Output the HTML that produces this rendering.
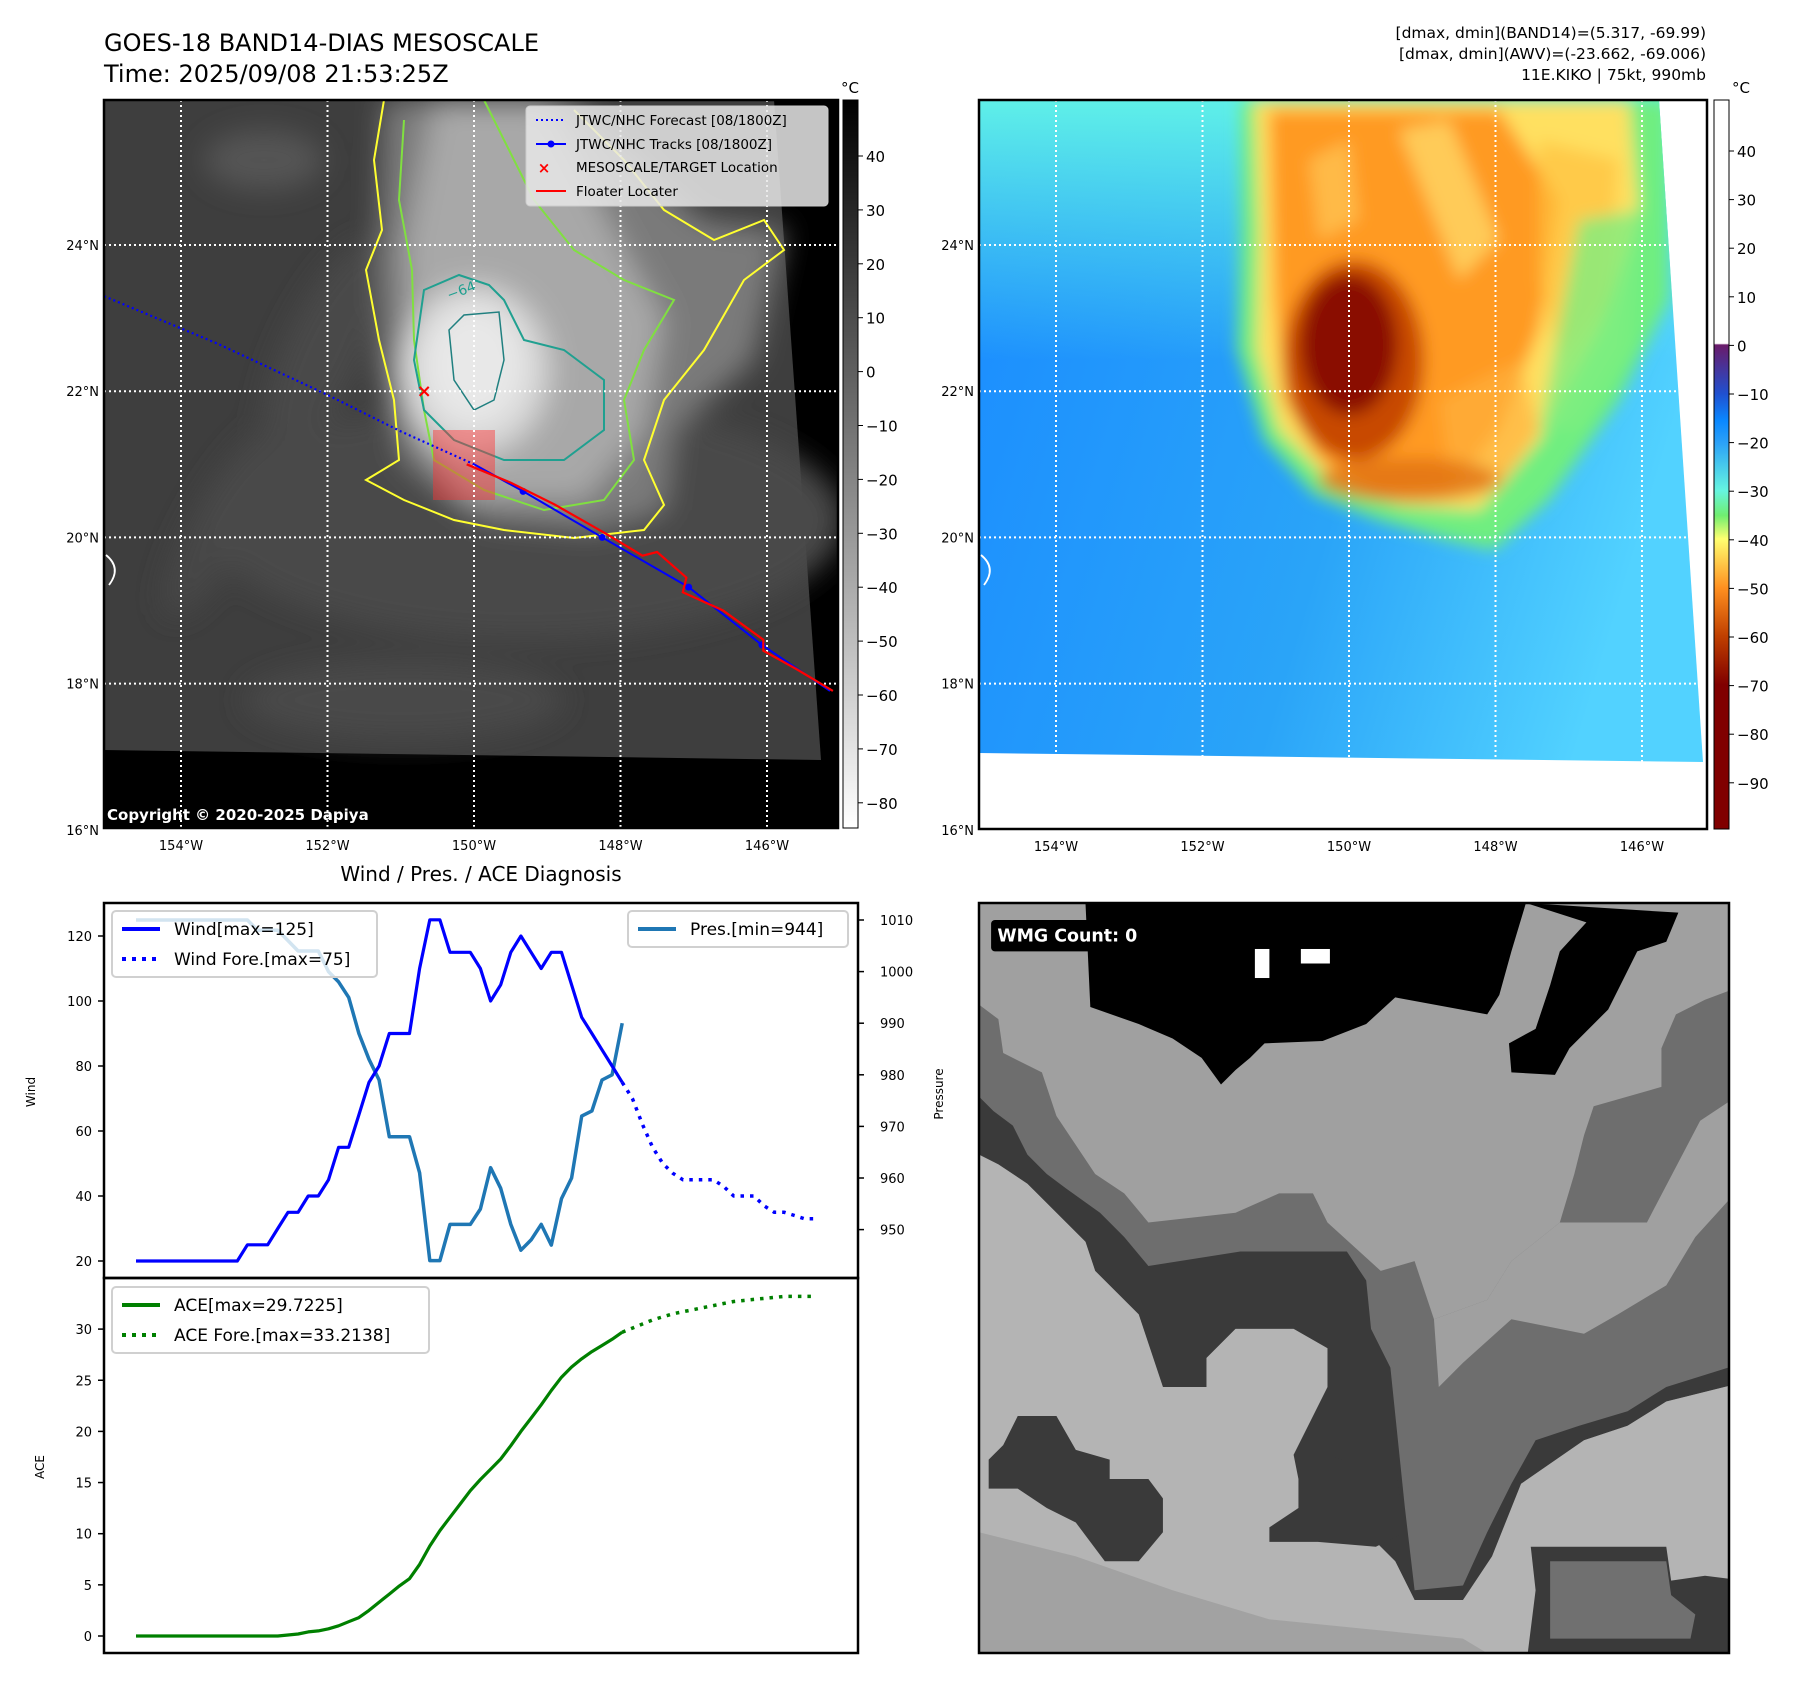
<!DOCTYPE html>
<html><head><meta charset="utf-8">
<style>
html,body{margin:0;padding:0;background:#fff;}
body{width:1797px;height:1690px;overflow:hidden;font-family:"DejaVu Sans","Liberation Sans",sans-serif;}
svg text{font-family:"DejaVu Sans","Liberation Sans",sans-serif;}
</style></head>
<body>
<svg id="root" width="1797" height="1690" viewBox="0 0 1797 1690" xmlns="http://www.w3.org/2000/svg">
<defs>
  <filter id="blur8"><feGaussianBlur stdDeviation="8"/></filter>
  <filter id="blur4"><feGaussianBlur stdDeviation="4"/></filter>
  <filter id="blur14"><feGaussianBlur stdDeviation="14"/></filter>
  <linearGradient id="grayBar" x1="0" y1="0" x2="0" y2="1">
    <stop offset="0" stop-color="#000"/><stop offset="1" stop-color="#fff"/>
  </linearGradient>
  <linearGradient id="awvBar" x1="0" y1="0" x2="0" y2="1">
    <stop offset="0" stop-color="#fff"/><stop offset="0.334" stop-color="#fff"/>
    <stop offset="0.336" stop-color="#6a1b6a"/><stop offset="0.403" stop-color="#2050d0"/>
    <stop offset="0.44" stop-color="#0a88ff"/><stop offset="0.469" stop-color="#2aa0f8"/>
    <stop offset="0.536" stop-color="#66f5e0"/><stop offset="0.57" stop-color="#70ee70"/>
    <stop offset="0.602" stop-color="#ffff70"/><stop offset="0.669" stop-color="#ff9020"/>
    <stop offset="0.735" stop-color="#c04000"/><stop offset="0.802" stop-color="#800000"/>
    <stop offset="1" stop-color="#800000"/>
  </linearGradient>
  <linearGradient id="seaGrad" x1="0" y1="0" x2="1" y2="0.3">
    <stop offset="0" stop-color="#1a8cff"/><stop offset="0.6" stop-color="#2aa4f8"/><stop offset="1" stop-color="#52d2ff"/>
  </linearGradient>
  <linearGradient id="seaTop" x1="0" y1="0" x2="0" y2="1">
    <stop offset="0" stop-color="#5ff0e8"/><stop offset="1" stop-color="#5ff0e8" stop-opacity="0"/>
  </linearGradient>
  <clipPath id="clipL"><rect x="0" y="0" width="734" height="728"/></clipPath>
  <clipPath id="clipR"><rect x="0" y="0" width="728" height="729"/></clipPath>
  <clipPath id="clipB"><rect x="0" y="0" width="750" height="750"/></clipPath>
</defs>

<!-- Titles -->
<text x="104" y="51" font-size="24" fill="#000">GOES-18 BAND14-DIAS MESOSCALE</text>
<text x="104" y="82" font-size="24" fill="#000">Time: 2025/09/08 21:53:25Z</text>
<g font-size="15.5" text-anchor="end" fill="#000">
  <text x="1706" y="38">[dmax, dmin](BAND14)=(5.317, -69.99)</text>
  <text x="1706" y="59">[dmax, dmin](AWV)=(-23.662, -69.006)</text>
  <text x="1706" y="80">11E.KIKO | 75kt, 990mb</text>
</g>

<!-- LEFT MAP -->
<g id="mapL" transform="translate(104,100)">
  <g clip-path="url(#clipL)">
    <rect width="734" height="728" fill="#000"/>
    <polygon points="0,0 670,0 717,660 0,650" fill="#3e3e3e"/>
    <g filter="url(#blur14)">
      <ellipse cx="160" cy="60" rx="60" ry="30" fill="#555"/>
      <ellipse cx="220" cy="250" rx="40" ry="120" fill="#4a4a4a" transform="rotate(25 220 250)"/>
      <ellipse cx="120" cy="420" rx="30" ry="110" fill="#474747" transform="rotate(30 120 420)"/>
      <ellipse cx="420" cy="420" rx="320" ry="120" fill="#4a4a4a"/>
      <ellipse cx="300" cy="600" rx="160" ry="40" fill="#4a4a4a"/>
      <path d="M275,130 L280,0 L470,0 L600,120 L680,130 L650,260 L570,330 L560,410 L490,430 L380,420 L300,360 L280,280Z" fill="#7a7a7a"/>
      <path d="M300,150 L330,0 L440,0 L520,150 L560,220 L540,330 L480,400 L360,400 L310,330Z" fill="#a8a8a8"/>
      <ellipse cx="370" cy="270" rx="75" ry="85" fill="#d8d8d8"/>
      <ellipse cx="370" cy="265" rx="50" ry="60" fill="#e8e8e8"/>
    </g>
    <g fill="none" stroke-width="2">
      <path d="M280,0 L270,60 L278,130 L262,170 L275,240 L290,300 L295,360 L262,380 L300,400 L350,420 L400,430 L470,438 L540,430 L560,405 L540,360 L560,300 L600,250 L640,180 L680,150 L660,120 L610,140 L560,110 L520,60 L470,10" stroke="#ffff30"/>
      <path d="M300,20 L295,100 L308,170 L310,240 L320,310 L330,360 L380,390 L440,410 L500,400 L530,360 L520,300 L540,250 L570,200 L520,180 L470,150 L430,100 L400,40 L380,0" stroke="#80e040"/>
      <path d="M320,190 L355,175 L385,185 L400,200 L420,240 L460,250 L500,280 L500,330 L460,360 L400,360 L350,340 L320,310 L310,260Z" stroke="#20a090"/>
      <path d="M345,230 L360,215 L395,212 L400,260 L390,300 L370,310 L350,280Z" stroke="#208080" stroke-width="1.5"/>
    </g>
    <text x="345" y="200" font-size="14" fill="#20a090" transform="rotate(-20 345 200)">−64</text>
    <rect x="329" y="330" width="62" height="70" fill="#ff3030" fill-opacity="0.45"/>
    <path d="M2,455 Q18,468 5,485" fill="none" stroke="#fff" stroke-width="1.8"/>
    <g id="gridL"></g>
    <g id="tracksL"></g>
    <text x="3" y="720" font-size="15" font-weight="bold" fill="#fff">Copyright © 2020-2025 Dapiya</text>
    <g>
      <rect x="422" y="6" width="302" height="100" rx="4" fill="#e8e8e8" fill-opacity="0.85" stroke="#ccc"/>
      <line x1="432" y1="20" x2="462" y2="20" stroke="#0000ff" stroke-width="2" stroke-dasharray="2,3"/>
      <text x="472" y="25" font-size="13.5" fill="#000">JTWC/NHC Forecast [08/1800Z]</text>
      <line x1="432" y1="44" x2="462" y2="44" stroke="#0000ff" stroke-width="2"/><circle cx="447" cy="44" r="3.5" fill="#0000ff"/>
      <text x="472" y="49" font-size="13.5" fill="#000">JTWC/NHC Tracks [08/1800Z]</text>
      <text x="440" y="73" font-size="15" font-weight="bold" fill="#ff0000" text-anchor="middle">×</text>
      <text x="472" y="72" font-size="13.5" fill="#000">MESOSCALE/TARGET Location</text>
      <line x1="432" y1="91" x2="462" y2="91" stroke="#ff0000" stroke-width="2"/>
      <text x="472" y="96" font-size="13.5" fill="#000">Floater Locater</text>
    </g>
  </g>
  <rect width="734" height="728" fill="none" stroke="#000" stroke-width="2.5"/>
  <g id="axisL" font-size="13" fill="#000"></g>
</g>
<g>
  <rect x="843" y="100" width="15" height="728" fill="url(#grayBar)" stroke="#000" stroke-width="1"/>
  <text x="850" y="93" font-size="15" text-anchor="middle">°C</text>
  <g id="cbarL" font-size="15"></g>
</g>

<!-- RIGHT MAP -->
<g id="mapR" transform="translate(979,100)">
  <g clip-path="url(#clipR)">
    <rect width="728" height="729" fill="#fff"/>
    <clipPath id="dataR"><polygon points="0,0 680,0 724,662 0,653"/></clipPath>
    <g clip-path="url(#dataR)">
      <rect width="728" height="729" fill="url(#seaGrad)"/>
      <rect width="728" height="260" fill="url(#seaTop)"/>
      <g filter="url(#blur8)">
        <path d="M262,0 L690,0 L690,200 L640,300 L570,400 L515,450 L470,440 L400,420 L335,395 L285,340 L258,250 L262,130Z" fill="#70ee80"/>
        <path d="M275,0 L650,0 L660,120 L620,230 L560,340 L500,410 L420,405 L350,380 L300,330 L278,250 L280,130Z" fill="#ffe060"/>
        <path d="M290,10 L520,10 L580,100 L560,230 L520,330 L470,390 L400,395 L340,360 L305,300 L295,200Z" fill="#ff9a20"/>
        <path d="M560,40 L640,60 L630,200 L580,260 L560,180Z" fill="#ffc040" fill-opacity="0.7"/>
        <path d="M600,120 L660,110 L650,250 L600,330 L560,330 Z" fill="#80ee80" fill-opacity="0.8"/>
        <path d="M420,30 L470,20 L520,140 L480,180 Z" fill="#ffe070" fill-opacity="0.7"/>
        <path d="M330,60 L370,40 L380,120 L340,140 Z" fill="#ffd060" fill-opacity="0.6"/>
        <path d="M460,300 L540,260 L560,330 L520,390 L470,380 Z" fill="#ffb040" fill-opacity="0.7"/>
        <ellipse cx="375" cy="260" rx="70" ry="100" fill="#c84a00"/>
        <ellipse cx="370" cy="245" rx="48" ry="70" fill="#8a1000"/>
        <ellipse cx="430" cy="380" rx="90" ry="22" fill="#e07010" fill-opacity="0.8"/>
      </g>
    </g>
    <path d="M2,455 Q18,468 5,485" fill="none" stroke="#fff" stroke-width="1.8"/>
    <g id="gridR"></g>
  </g>
  <rect width="728" height="729" fill="none" stroke="#000" stroke-width="2.5"/>
  <g id="axisR" font-size="13" fill="#000"></g>
</g>
<g>
  <rect x="1714" y="100" width="15" height="729" fill="url(#awvBar)" stroke="#000" stroke-width="1"/>
  <text x="1741" y="93" font-size="15" text-anchor="middle">°C</text>
  <g id="cbarR" font-size="15"></g>
</g>

<!-- DIAGNOSIS CHART -->
<text x="481" y="881" font-size="20" text-anchor="middle">Wind / Pres. / ACE Diagnosis</text>
<g id="diag"></g>

<!-- BOTTOM RIGHT -->
<g transform="translate(979,903)">
  <g clip-path="url(#clipB)">
    <g transform="scale(0.484)">
      <rect width="1580" height="1580" fill="#a0a0a0"/>
      <polygon points="220,0 1130,0 1100,100 1075,190 1050,230 860,195 800,250 710,285 590,290 560,320 530,345 500,375 460,320 400,280 330,250 230,215" fill="#000"/>
      <polygon points="1130,0 1445,20 1420,80 1360,100 1330,160 1300,220 1220,300 1190,355 1100,350 1095,290 1150,260 1180,170 1200,100 1255,40" fill="#000"/>
      <polygon points="0,210 40,240 50,310 130,350 160,440 240,560 300,600 350,660 530,640 620,600 690,600 720,660 830,760 900,740 940,860 1050,820 1100,740 1200,660 1230,560 1250,480 1270,420 1410,380 1410,300 1440,230 1500,200 1580,170 1580,1580 0,1580" fill="#6e6e6e"/>
      <polygon points="940,860 1050,820 1100,740 1200,660 1380,660 1490,450 1580,390 1580,580 1480,690 1420,790 1320,850 1250,890 1100,860 1000,950 950,1000" fill="#a0a0a0"/>
      <polygon points="0,400 30,430 70,460 100,520 140,560 180,590 250,640 300,690 350,750 540,720 760,720 800,780 810,880 850,960 880,1250 900,1420 1000,1410 1050,1300 1100,1200 1150,1110 1240,1080 1340,1050 1420,1000 1580,950 1580,990 1420,1030 1340,1080 1250,1110 1120,1200 1060,1350 1000,1440 900,1440 860,1360 800,1300 700,1200 650,1140 720,1000 720,920 650,880 530,880 470,940 470,1000 380,1000 330,850 300,820 240,760 220,700 160,640 100,580 40,540 0,520" fill="#3a3a3a"/>
      <polygon points="0,520 40,540 100,580 160,640 220,700 240,760 300,820 330,850 380,1000 470,1000 470,940 530,880 650,880 720,920 720,1000 650,1140 700,1200 800,1300 860,1360 900,1440 1000,1440 1060,1350 1120,1200 1250,1110 1340,1080 1420,1030 1580,990 1580,1580 0,1580" fill="#b4b4b4"/>
      <polygon points="0,1300 200,1350 400,1420 600,1480 800,1500 1000,1520 1100,1580 0,1580" fill="#a2a2a2"/>
      <polygon points="20,1150 50,1120 80,1060 160,1060 200,1130 270,1150 270,1190 350,1190 380,1230 380,1300 330,1360 260,1360 200,1280 140,1250 80,1210 20,1210" fill="#3a3a3a"/>
      <polygon points="650,1140 720,1140 780,1160 860,1160 880,1300 820,1330 700,1320 600,1320 600,1290 660,1250 660,1190" fill="#3a3a3a"/>
      <polygon points="1140,1330 1420,1330 1430,1400 1500,1390 1580,1400 1580,1580 1130,1580 1150,1420" fill="#3a3a3a"/>
      <polygon points="1180,1360 1420,1360 1430,1430 1480,1470 1470,1520 1180,1520" fill="#707070"/>
      <rect x="570" y="95" width="30" height="60" fill="#fff"/>
      <rect x="665" y="95" width="60" height="30" fill="#fff"/>
      <rect x="25" y="35" width="360" height="65" rx="8" fill="#000"/>
      <text x="38" y="80" font-size="36" font-weight="bold" fill="#fff">WMG Count: 0</text>
    </g>
  </g>
  <rect width="750" height="750" fill="none" stroke="#000" stroke-width="2.5"/>
</g>
</svg>

<script>
// ===== Chart data =====
const windObs = [20,20,20,20,20,20,20,20,20,20,20,25,25,25,30,35,35,40,40,45,55,55,65,75,80,90,90,90,110,125,125,115,115,115,110,100,105,115,120,115,110,115,115,105,95,90,85,80,75];
const windFcst = [75,70,62,55,50,47,45,45,45,45,43,40,40,40,37,35,35,34,33,33];
const presObs = [1010,1010,1010,1010,1010,1010,1010,1010,1010,1010,1010,1010,1008,1008,1008,1006,1004,1004,1004,1000,998,995,988,983,979,968,968,968,961,944,944,951,951,951,954,962,958,951,946,948,951,947,956,960,972,973,979,980,990];
const aceObs = [0,0,0,0,0,0,0,0,0,0,0,0,0,0,0,0.1,0.2,0.4,0.5,0.7,1.0,1.4,1.8,2.5,3.3,4.1,4.9,5.6,7.0,8.8,10.3,11.6,12.9,14.2,15.3,16.3,17.3,18.6,20.0,21.3,22.6,24.0,25.3,26.3,27.1,27.8,28.4,29.0,29.7];
const aceFcst = [29.7,30.1,30.5,30.9,31.2,31.5,31.7,31.9,32.1,32.3,32.5,32.7,32.8,32.9,33.0,33.1,33.2,33.2,33.2,33.2];
const windTicks = [20,40,60,80,100,120];
const presTicks = [950,960,970,980,990,1000,1010];
const aceTicks = [0,5,10,15,20,25,30];
const windLegend = ["Wind[max=125]","Wind Fore.[max=75]"];
const presLegend = ["Pres.[min=944]"];
const aceLegend = ["ACE[max=29.7225]","ACE Fore.[max=33.2138]"];
const lonTicks = [154,152,150,148,146];
const latTicks = [24,22,20,18,16];
const forecastTrack = [[155.05,23.3],[153.5,22.65],[152,21.95],[151,21.45],[150.0,21.0]];
const bestTrack = [[150.0,21.0],[149.33,20.63],[148.25,20.0],[147.07,19.32],[146.07,18.53],[145.14,17.9]];
const floaterTrack = [[150.1,21.0],[149.5,20.75],[148.9,20.45],[148.2,20.05],[147.7,19.75],[147.5,19.8],[147.1,19.45],[147.15,19.25],[146.6,19.0],[146.05,18.6],[146.05,18.45],[145.6,18.2],[145.1,17.9]];
const targetLoc = [150.68,22.0];
const trackDots = [[149.33,20.63],[148.25,20.0],[147.07,19.32],[146.07,18.53]];
const cbarGrayTicks = [40,30,20,10,0,-10,-20,-30,-40,-50,-60,-70,-80];
const cbarAwvTicks = [40,30,20,10,0,-10,-20,-30,-40,-50,-60,-70,-80,-90];

const NS = "http://www.w3.org/2000/svg";
function mk(tag, parent){ const e=document.createElementNS(NS,tag); parent.appendChild(e); return e; }
function set(e, o){ for(const k in o) e.setAttribute(k,o[k]); return e; }

const lonX = lon => 77 + (154 - lon) * 73.25;
const latY = lat => 145 + (24 - lat) * 73.1;
function fmtMinus(v){ return v<0 ? "\u2212"+(-v) : ""+v; }

function drawGrid(gid, aid, h, w){
  const g=document.getElementById(gid), a=document.getElementById(aid);
  lonTicks.forEach(lon=>{
    const x=lonX(lon);
    const l=set(mk('line',g),{x1:x,y1:0,x2:x,y2:h,stroke:'#fff','stroke-width':2,'stroke-dasharray':'2,3'});
    
    
    const t=set(mk('text',a),{x:x,y:h+22,'text-anchor':'middle'});
    t.textContent=lon+"°W";
    
    
  });
  latTicks.forEach(lat=>{
    const y=latY(lat);
    if(lat>16){
      const l=set(mk('line',g),{x1:0,y1:y,x2:w,y2:y,stroke:'#fff','stroke-width':2,'stroke-dasharray':'2,3'});
      
      
    }
    const t=set(mk('text',a),{x:-5,y:y+5,'text-anchor':'end'});
    t.textContent=lat+"°N";
    
    
  });
}
drawGrid('gridL','axisL',728,734);
drawGrid('gridR','axisR',729,728);

(function(){
  const g=document.getElementById('tracksL');
  const pts=arr=>arr.map(p=>lonX(p[0]).toFixed(1)+","+latY(p[1]).toFixed(1)).join(" ");
  const f=set(mk('polyline',g),{points:pts(forecastTrack),fill:'none',stroke:'#0000ff','stroke-width':2.2,'stroke-dasharray':'2,3'});
  
  
  const b=set(mk('polyline',g),{points:pts(bestTrack),fill:'none',stroke:'#0000ff','stroke-width':2});
  
  
  trackDots.forEach(p=>{
    const c=set(mk('circle',g),{cx:lonX(p[0]),cy:latY(p[1]),r:3.5,fill:'#0000ff'});
    
    
  });
  const r=set(mk('polyline',g),{points:pts(floaterTrack),fill:'none',stroke:'#ff0000','stroke-width':2.2});
  
  
  const x=set(mk('text',g),{x:lonX(targetLoc[0]),y:latY(targetLoc[1])+6,'font-size':18,'font-weight':'bold',fill:'#ff0000','text-anchor':'middle'});
  x.textContent="×";
  
  
})();

(function(){
  const gL=document.getElementById('cbarL');
  const yG=v=>156+(40-v)*5.39;
  cbarGrayTicks.forEach(v=>{
    const y=yG(v);
    set(mk('line',gL),{x1:858,y1:y,x2:863,y2:y,stroke:'#000'});
    const t=set(mk('text',gL),{x:866,y:y+6});
    t.textContent=fmtMinus(v);
    
    
  });
  const gR=document.getElementById('cbarR');
  const yA=v=>151+(40-v)*4.86;
  cbarAwvTicks.forEach(v=>{
    const y=yA(v);
    set(mk('line',gR),{x1:1729,y1:y,x2:1734,y2:y,stroke:'#000'});
    const t=set(mk('text',gR),{x:1737,y:y+6});
    t.textContent=fmtMinus(v);
    
    
  });
})();

(function(){
  const g=document.getElementById('diag');
  const L=104,R=858,T=903,M=1278,B=1653;
  const xI=i=>136+i*10.13;
  const yW=w=>1261-(w-20)*3.25;
  const yP=p=>920+(1010-p)*5.16;
  const yA=a=>1636-a*10.23;
  const line=(vals,off,yf,color,w,dash,name)=>{
    const p=set(mk('polyline',g),{points:vals.map((v,i)=>xI(i+off).toFixed(1)+","+yf(v).toFixed(1)).join(" "),fill:'none',stroke:color,'stroke-width':w,'stroke-linejoin':'round'});
    if(dash) p.setAttribute('stroke-dasharray',dash);
    
    
  };
  const f1=set(mk('rect',g),{x:L,y:T,width:R-L,height:M-T,fill:'none',stroke:'#000','stroke-width':2.5});
  
  
  const f2=set(mk('rect',g),{x:L,y:M,width:R-L,height:B-M,fill:'none',stroke:'#000','stroke-width':2.5});
  
  
  windTicks.forEach(v=>{const y=yW(v);set(mk('line',g),{x1:L-6,y1:y,x2:L,y2:y,stroke:'#000','stroke-width':1.5});
    const t=set(mk('text',g),{x:L-12,y:y+5,'font-size':13,'text-anchor':'end'});t.textContent=v;
    
    });
  presTicks.forEach(v=>{const y=yP(v);set(mk('line',g),{x1:R,y1:y,x2:R+6,y2:y,stroke:'#000','stroke-width':1.5});
    const t=set(mk('text',g),{x:R+22,y:y+5,'font-size':13});t.textContent=v;
    
    });
  aceTicks.forEach(v=>{const y=yA(v);set(mk('line',g),{x1:L-6,y1:y,x2:L,y2:y,stroke:'#000','stroke-width':1.5});
    const t=set(mk('text',g),{x:L-12,y:y+5,'font-size':13,'text-anchor':'end'});t.textContent=v;
    
    });
  const lab=(txt,x,y,name)=>{const t=set(mk('text',g),{x:x,y:y,'font-size':12,'text-anchor':'middle',transform:`rotate(-90 ${x} ${y})`});t.textContent=txt;
    
    };
  lab('Wind',35,1092,'wind-axis-title');
  lab('Pressure',943,1094,'pressure-axis-title');
  lab('ACE',44,1467,'ace-axis-title');
  line(presObs,0,yP,'#1f77b4',3.5,null,'pressure-line');
  line(windObs,0,yW,'#0000ff',3.2,null,'wind-line');
  line(windFcst,windObs.length-1,yW,'#0000ff',3.5,'3.5,6','wind-forecast-line');
  line(aceObs,0,yA,'#008000',3.2,null,'ace-line');
  line(aceFcst,aceObs.length-1,yA,'#008000',3.5,'3.5,6','ace-forecast-line');
  const legend=(x,y,w,items,name)=>{
    const lg=mk('g',g);
    
    
    set(mk('rect',lg),{x:x,y:y,width:w,height:items.length*30+6,rx:4,fill:'#fff','fill-opacity':0.8,stroke:'#d0d0d0','stroke-width':2});
    items.forEach((it,k)=>{const cy=y+18+k*30;
      const l=set(mk('line',lg),{x1:x+10,y1:cy,x2:x+48,y2:cy,stroke:it.c,'stroke-width':4});
      if(it.d) l.setAttribute('stroke-dasharray','4,6');
      const t=set(mk('text',lg),{x:x+62,y:cy+6,'font-size':17});t.textContent=it.t;});
  };
  legend(112,911,265,[{t:windLegend[0],c:'#0000ff'},{t:windLegend[1],c:'#0000ff',d:1}],'wind-legend');
  legend(628,911,220,[{t:presLegend[0],c:'#1f77b4'}],'pressure-legend');
  legend(112,1287,317,[{t:aceLegend[0],c:'#008000'},{t:aceLegend[1],c:'#008000',d:1}],'ace-legend');
})();
</script>
</body></html>
